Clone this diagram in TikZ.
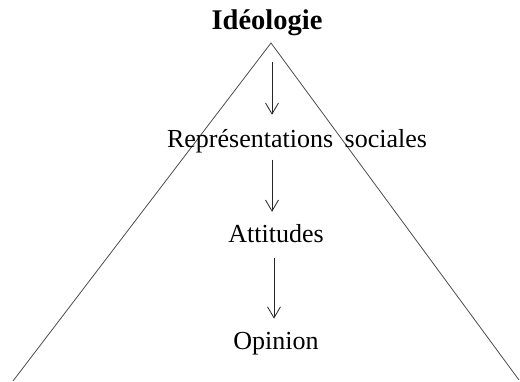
\documentclass[tikz,border=0pt]{standalone}
\usepackage{fontspec}
\setmainfont{Liberation Serif}
\usetikzlibrary{arrows.meta}
\begin{document}
\begin{tikzpicture}[x=1pt,y=-1pt,
  lbl/.style={inner sep=0pt,anchor=base,font=\fontsize{26}{30}\selectfont},
  ttl/.style={inner sep=0pt,anchor=base,font=\fontsize{28.5}{32}\selectfont\bfseries},
  arr/.style={-{Straight Barb[length=11pt,width=13pt]},line width=0.8pt,black!85},
  side/.style={line width=0.8pt,black!70}]
\useasboundingbox (0,0) rectangle (520,382);
\coordinate (apex) at (271,43);
\coordinate (bl) at (13,381);
\coordinate (br) at (519,380);
\draw[side] (bl) -- (apex) -- (br);
\node[ttl] (ideo) at (267,30) {Idéologie};
\node[lbl] (repr) at (297,148) {Représentations\hspace{5pt} sociales};
\node[lbl] (att) at (276,243) {Attitudes};
\node[lbl] (opi) at (276,350) {Opinion};
\coordinate (c1) at (272,0);
\coordinate (c3) at (274,0);
\draw[arr,shorten <=26pt,shorten >=15pt] (c1 |- ideo.south) -- (c1 |- repr.north);
\draw[arr,shorten <=6pt,shorten >=13pt] (c1 |- repr.south) -- (c1 |- att.north);
\draw[arr,shorten <=15pt,shorten >=14pt] (c3 |- att.south) -- (c3 |- opi.north);
\end{tikzpicture}
\end{document}
